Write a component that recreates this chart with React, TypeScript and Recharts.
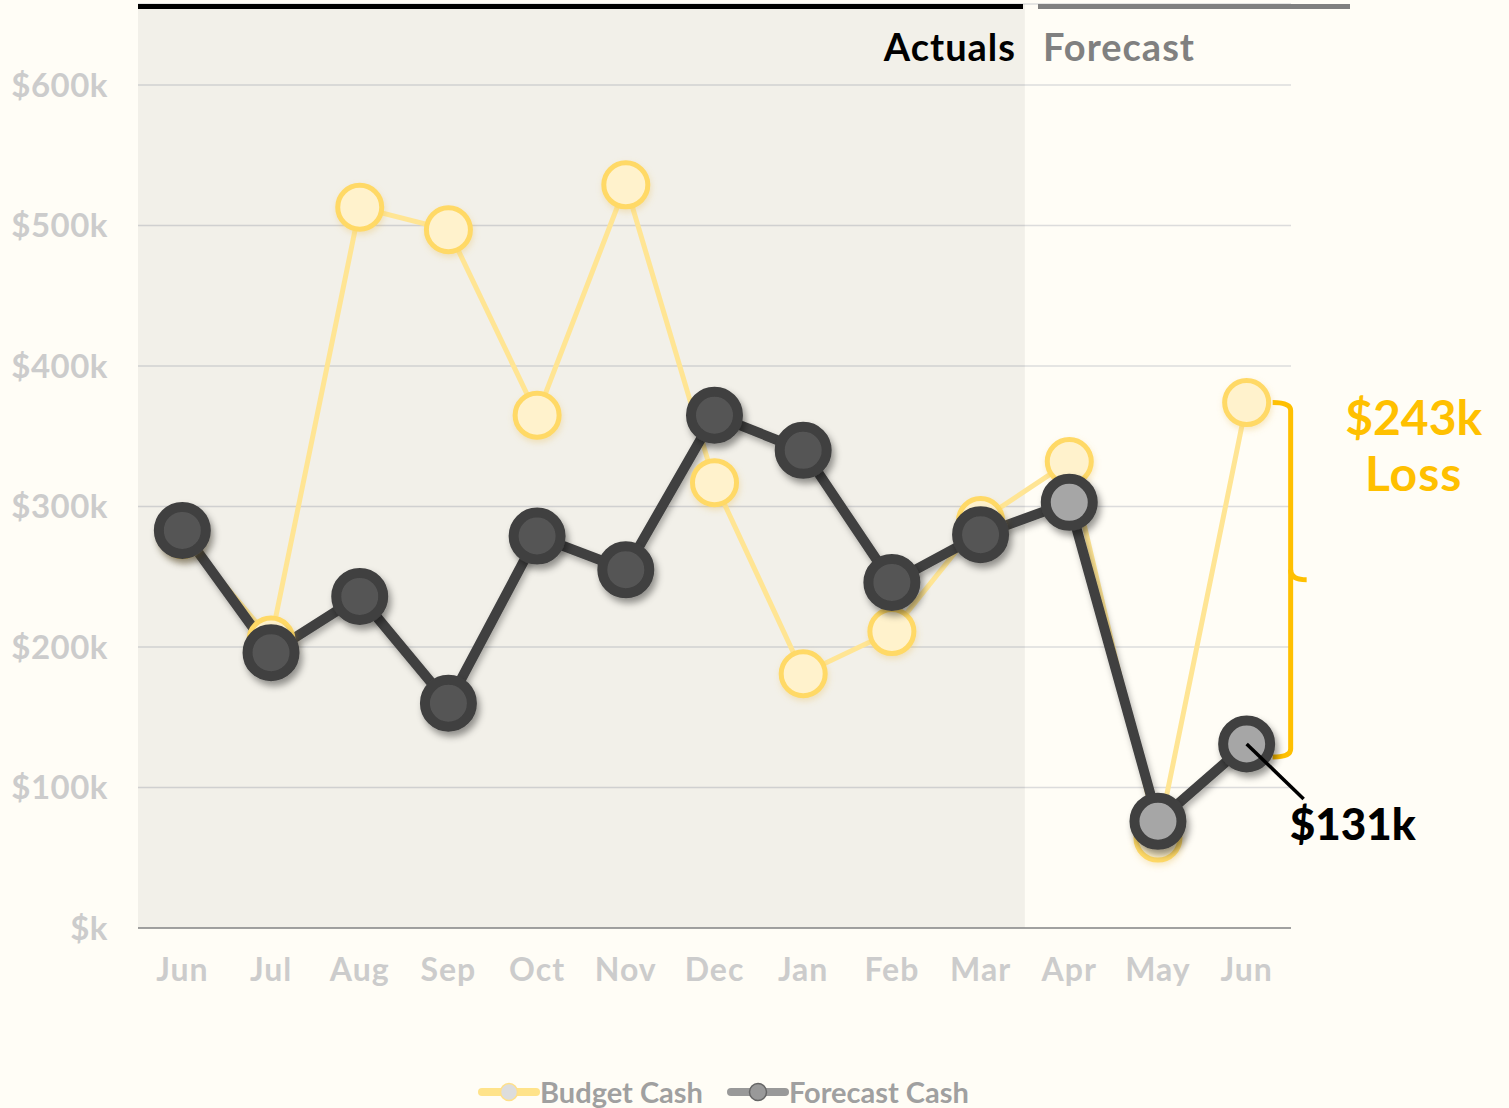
import React from 'react';
import {
  LineChart,
  Line,
  XAxis,
  YAxis,
  CartesianGrid,
  ReferenceArea,
  ReferenceLine,
  ReferenceDot,
  Legend,
} from 'recharts';

// ---- data (values in $k) ----
const months = ['Jun', 'Jul', 'Aug', 'Sep', 'Oct', 'Nov', 'Dec', 'Jan', 'Feb', 'Mar', 'Apr', 'May', 'Jun'];
const budgetCash = [280, 205, 513, 497, 365, 529, 317, 181, 211, 290, 332, 64, 374];
const forecastCash = [283, 196, 236, 160, 279, 255, 365, 340, 246, 280, 303, 76, 131];
const forecastStartIndex = 10;
const yTicks = [0, 100, 200, 300, 400, 500, 600];
const seriesNames = ['Budget Cash', 'Forecast Cash'];
const headerLabels = ['Actuals', 'Forecast'];

const data = months.map((m, i) => ({
  key: `${m}-${i}`,
  month: m,
  budget: budgetCash[i],
  forecast: forecastCash[i],
}));

const lastKey = data[data.length - 1].key;
const lastBudget = budgetCash[budgetCash.length - 1];
const lastForecast = forecastCash[forecastCash.length - 1];
const actualEndKey = data[forecastStartIndex - 1].key;

const W = 1509;
const H = 1108;
const BG = '#FFFDF6';
const FONT = 'Lato, "Open Sans", sans-serif';

const BudgetDot = (p: any) => {
  if (p.cx == null || p.cy == null) return <g key={p.key} />;
  return (
    <circle
      key={p.key}
      cx={p.cx}
      cy={p.cy}
      r={22}
      fill="#FFF2CC"
      stroke="#FFD966"
      strokeWidth={5}
      filter="url(#yglow)"
    />
  );
};

const ForecastDot = (p: any) => {
  if (p.cx == null || p.cy == null) return <g key={p.key} />;
  const isFc = p.index >= forecastStartIndex;
  return (
    <circle
      key={p.key}
      cx={p.cx}
      cy={p.cy}
      r={23.5}
      fill={isFc ? '#A6A6A6' : '#555555'}
      stroke="#404040"
      strokeWidth={10}
      filter="url(#dshadow)"
    />
  );
};

const BracketShape = (p: any) => {
  const x = p.x1 + 44;
  const top = Math.min(p.y1, p.y2);
  const bot = Math.max(p.y1, p.y2) + 13;
  const mid = (top + bot) / 2;
  const gap = lastBudget - lastForecast;
  return (
    <g>
      <path
        d={`M${x - 18},${top} Q${x},${top} ${x},${top + 8} L${x},${bot - 8} Q${x},${bot} ${x - 18},${bot}`}
        stroke="#FFC000"
        strokeWidth={5}
        fill="none"
      />
      <path d={`M${x},${mid - 10} Q${x},${mid} ${x + 16},${mid}`} stroke="#FFC000" strokeWidth={5} fill="none" />
      <text x={x + 123} y={top + 32} textAnchor="middle" fill="#FFC000" fontFamily={FONT} fontWeight={700} fontSize={48}>
        {`$${gap}k`}
      </text>
      <text x={x + 123} y={top + 88} textAnchor="middle" fill="#FFC000" fontFamily={FONT} fontWeight={700} fontSize={48} letterSpacing={1}>
        Loss
      </text>
    </g>
  );
};

const CalloutShape = (p: any) => {
  const { cx, cy } = p;
  return (
    <g>
      <line x1={cx} y1={cy} x2={cx + 57} y2={cy + 55} stroke="#000" strokeWidth={3.5} />
      <text x={cx + 43} y={cy + 96} textAnchor="start" fill="#000" fontFamily={FONT} fontWeight={900} fontSize={44}>
        {`$${lastForecast}k`}
      </text>
    </g>
  );
};

const LegendContent = () => {
  const items = [
    { name: seriesNames[0], line: '#FFE38A', dotFill: '#DDDDDD', dotStroke: '#FFE08A' },
    { name: seriesNames[1], line: '#999999', dotFill: '#999999', dotStroke: '#666666' },
  ];
  return (
    <div style={{ display: 'flex', alignItems: 'center', gap: 24, fontFamily: FONT }}>
      {items.map((it) => (
        <div key={it.name} style={{ display: 'flex', alignItems: 'center' }}>
          <svg width={62} height={20}>
            <line x1={4} y1={10} x2={58} y2={10} stroke={it.line} strokeWidth={8} strokeLinecap="round" />
            <circle cx={31} cy={10} r={8.5} fill={it.dotFill} stroke={it.dotStroke} strokeWidth={1.5} />
          </svg>
          <span style={{ color: '#A0A0A0', fontWeight: 700, fontSize: 29, lineHeight: '34px' }}>{it.name}</span>
        </div>
      ))}
    </div>
  );
};

export default function App() {
  return (
    <div style={{ position: 'absolute', left: 0, top: 0, width: W, height: H, background: BG, overflow: 'hidden' }}>
      <svg width={0} height={0} style={{ position: 'absolute' }}>
        <defs>
          <filter id="dshadow" x="-50%" y="-50%" width="200%" height="200%">
            <feDropShadow dx={3} dy={5} stdDeviation={3.5} floodColor="#000" floodOpacity={0.4} />
          </filter>
          <filter id="yglow" x="-50%" y="-50%" width="200%" height="200%">
            <feDropShadow dx={1} dy={3} stdDeviation={3} floodColor="#E8C060" floodOpacity={0.35} />
          </filter>
          <filter id="lshadow" x="-10%" y="-10%" width="120%" height="120%">
            <feDropShadow dx={2} dy={4} stdDeviation={3} floodColor="#000" floodOpacity={0.3} />
          </filter>
        </defs>
      </svg>
      <LineChart width={W} height={H} data={data} margin={{ top: 4, right: 218, bottom: 150, left: 0 }}>
        <ReferenceArea x1={data[0].key} x2={actualEndKey} y1={0} y2={657.7} fill="#000" fillOpacity={0.05} stroke="none" />
        <CartesianGrid vertical={false} stroke="#DCDCDC" strokeWidth={1.5} />
        <XAxis
          dataKey="key"
          scale="band"
          tickFormatter={(v: string) => v.split('-')[0]}
          tickLine={false}
          axisLine={{ stroke: '#8A8A8A', strokeWidth: 1.5 }}
          tickMargin={24}
          interval={0}
          height={30}
          tick={{ fill: '#CCCCCC', fontSize: 32, fontWeight: 700, fontFamily: FONT, letterSpacing: 1 }}
        />
        <YAxis
          domain={[0, 657.7]}
          ticks={yTicks}
          width={138}
          tickLine={false}
          axisLine={false}
          tickMargin={24}
          tickFormatter={(v: number) => (v === 0 ? '$k' : `$${v}k`)}
          tick={{ fill: '#CCCCCC', fontSize: 33, fontWeight: 700, fontFamily: FONT, letterSpacing: 0.5 }}
        />
        <Line
          type="linear"
          dataKey="budget"
          name={seriesNames[0]}
          stroke="#FFE594"
          strokeWidth={5}
          dot={BudgetDot}
          activeDot={false}
          isAnimationActive={false}
        />
        <Line
          type="linear"
          dataKey="forecast"
          name={seriesNames[1]}
          stroke="#404040"
          strokeWidth={10}
          dot={ForecastDot}
          activeDot={false}
          filter="url(#lshadow)"
          isAnimationActive={false}
        />
        <ReferenceLine
          segment={[
            { x: lastKey, y: lastBudget },
            { x: lastKey, y: lastForecast },
          ]}
          shape={BracketShape}
        />
        <ReferenceDot x={lastKey} y={lastForecast} r={1} shape={CalloutShape} zIndex={3000} />
        <Legend
          layout="horizontal"
          verticalAlign="middle"
          align="center"
          content={LegendContent}
          wrapperStyle={{ left: 478, top: 1075, width: 'auto' }}
        />
      </LineChart>
      <svg width={W} height={80} style={{ position: 'absolute', left: 0, top: 0, pointerEvents: 'none' }}>
        <line x1={138} y1={6.5} x2={1023} y2={6.5} stroke="#000" strokeWidth={5} />
        <line x1={1038} y1={6.5} x2={1350} y2={6.5} stroke="#808080" strokeWidth={5} />
        <text x={1016} y={61} textAnchor="end" fill="#000" fontFamily={FONT} fontWeight={700} fontSize={38} letterSpacing={1}>
          {headerLabels[0]}
        </text>
        <text x={1043} y={61} textAnchor="start" fill="#808080" fontFamily={FONT} fontWeight={700} fontSize={38} letterSpacing={1}>
          {headerLabels[1]}
        </text>
      </svg>
    </div>
  );
}
